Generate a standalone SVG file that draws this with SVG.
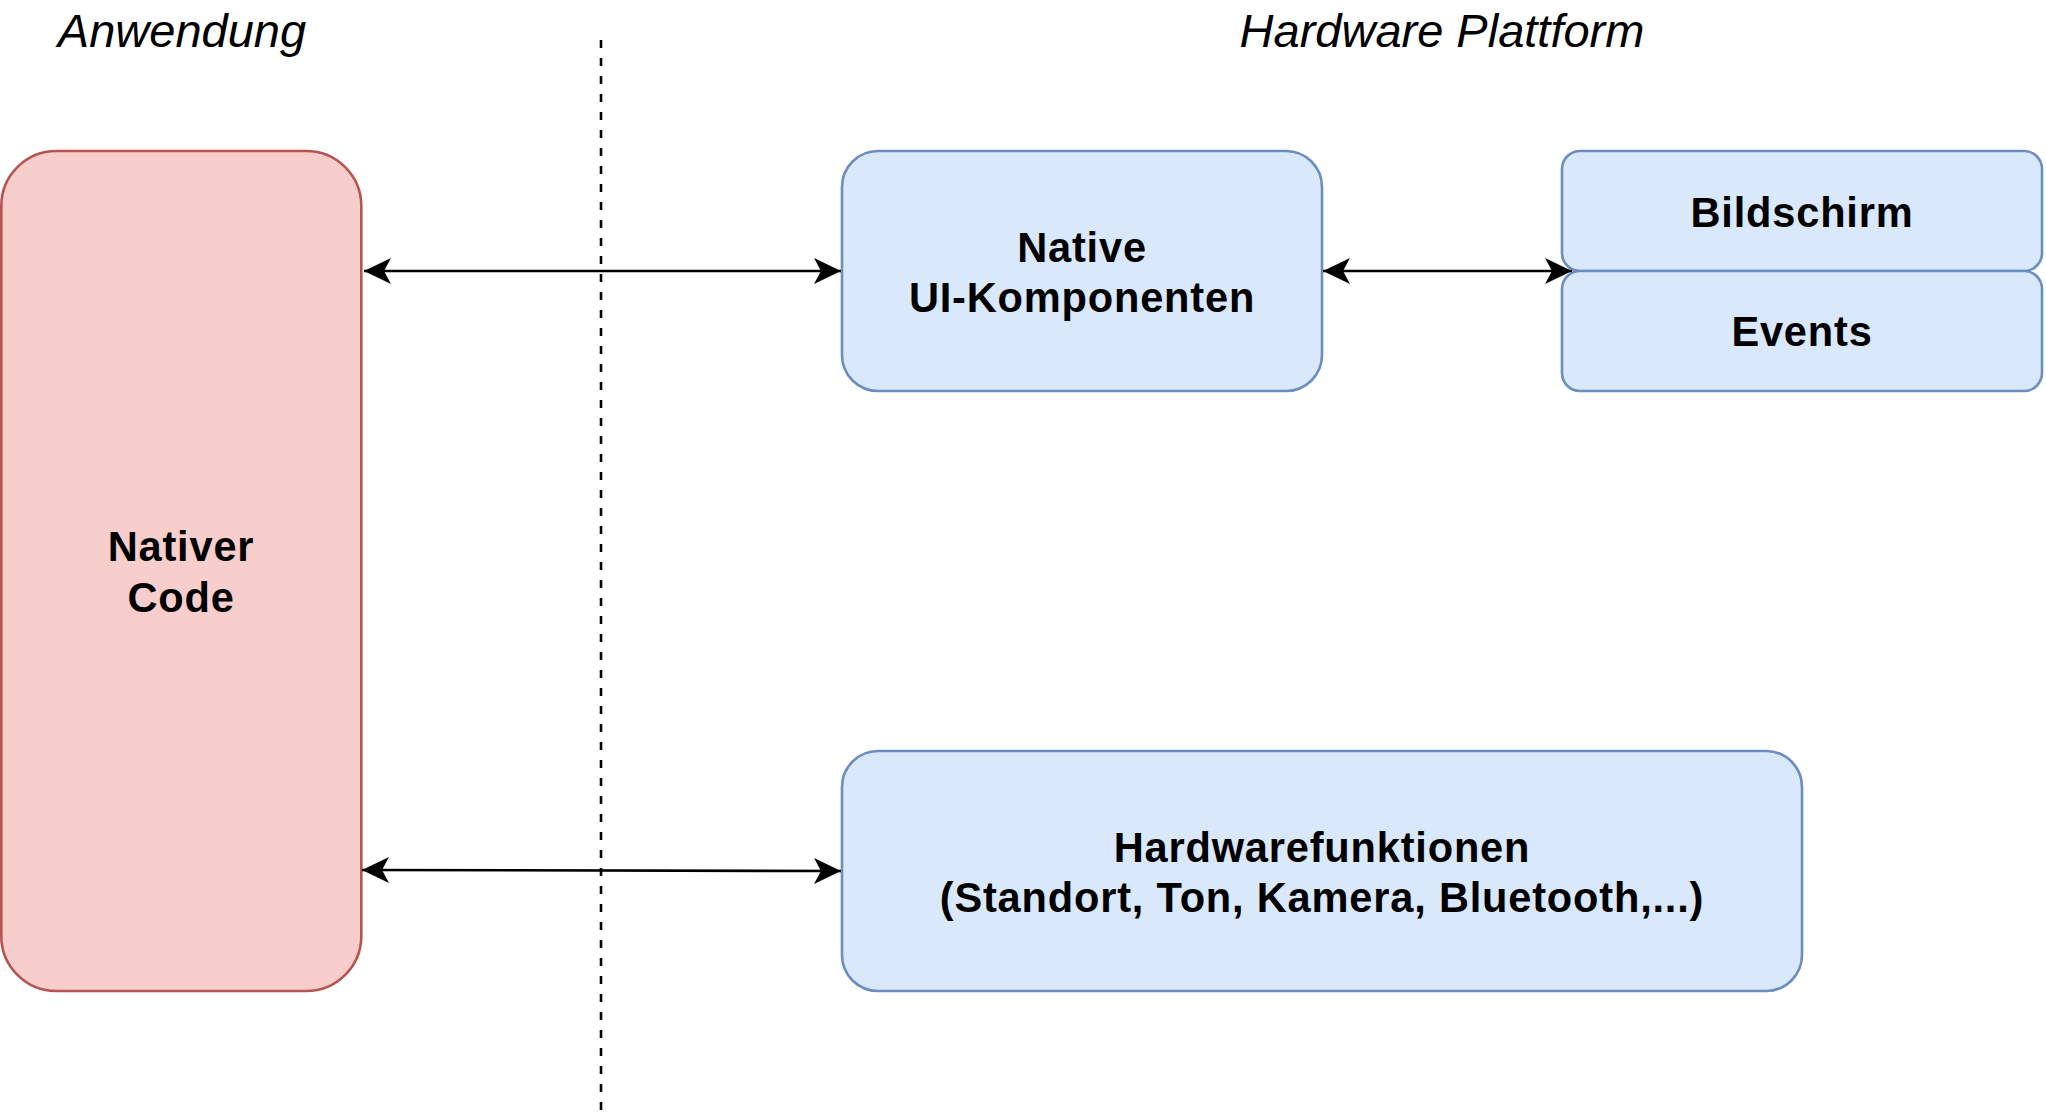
<svg xmlns="http://www.w3.org/2000/svg" width="2046" height="1116" viewBox="0 0 2046 1116">
<style>
.title{font-family:"Liberation Sans",Arial,sans-serif;font-style:italic;font-size:47px;fill:#000;text-anchor:middle}
.lbl{font-family:"Liberation Sans",Arial,sans-serif;font-weight:bold;font-size:41.6px;fill:#000;text-anchor:middle;letter-spacing:0.8px}
.red{fill:#f8cecc;stroke:#b85450;stroke-width:2.6}
.blue{fill:#dae8fc;stroke:#6c8ebf;stroke-width:2.6}
.edge{fill:none;stroke:#000;stroke-width:2.6}
</style>
<defs>
<marker id="arr" markerUnits="userSpaceOnUse" viewBox="0 -14 28 28" refX="27" refY="0" markerWidth="28" markerHeight="28" orient="auto-start-reverse">
<path d="M0,-13 L27,0 L0,13 L7,0 Z" fill="#000"/>
</marker>
</defs>
<g id="title-anwendung"><text class="title" x="182" y="47">Anwendung</text></g>
<g id="title-hardware"><text class="title" x="1442" y="47">Hardware Plattform</text></g>
<g id="divider"><line x1="601" y1="40" x2="601" y2="1112" stroke="#000" stroke-width="2.6" stroke-dasharray="8 10"/></g>
<g id="nativer-code">
<rect class="red" x="1.3" y="151" width="360" height="840" rx="55" ry="55"/>
<text class="lbl" x="181" y="561">Nativer</text>
<text class="lbl" x="181" y="612">Code</text>
</g>
<g id="native-ui">
<rect class="blue" x="842" y="151" width="480" height="240" rx="36" ry="36"/>
<text class="lbl" x="1082" y="262">Native</text>
<text class="lbl" x="1082" y="312">UI-Komponenten</text>
</g>
<g id="bildschirm">
<rect class="blue" x="1562" y="151" width="480" height="120" rx="18" ry="18"/>
<text class="lbl" x="1802" y="227">Bildschirm</text>
</g>
<g id="events">
<rect class="blue" x="1562" y="271" width="480" height="120" rx="18" ry="18"/>
<text class="lbl" x="1802" y="346">Events</text>
</g>
<g id="hardwarefunktionen">
<rect class="blue" x="842" y="751" width="960" height="240" rx="36" ry="36"/>
<text class="lbl" x="1322" y="862">Hardwarefunktionen</text>
<text class="lbl" x="1322" y="912">(Standort, Ton, Kamera, Bluetooth,...)</text>
</g>
<g id="connectors">
<line class="edge" x1="364" y1="271" x2="841" y2="271" marker-start="url(#arr)" marker-end="url(#arr)"/>
<line class="edge" x1="1323" y1="271" x2="1572" y2="271" marker-start="url(#arr)" marker-end="url(#arr)"/>
<line class="edge" x1="362" y1="870" x2="841" y2="871" marker-start="url(#arr)" marker-end="url(#arr)"/>
</g>
</svg>
